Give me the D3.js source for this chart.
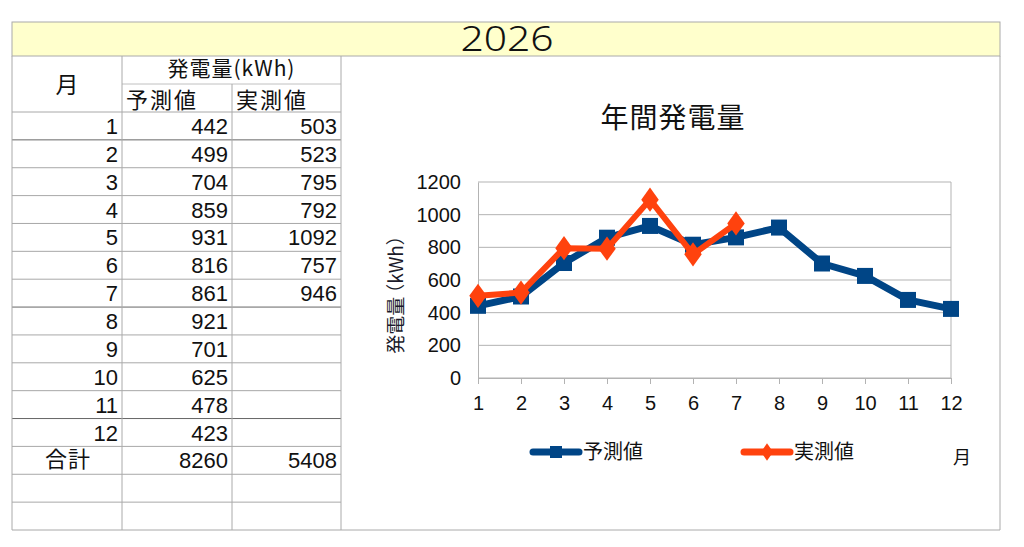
<!DOCTYPE html>
<html><head><meta charset="utf-8">
<script src="https://cdn.jsdelivr.net/npm/d3@7"></script>
<style>
html,body{margin:0;padding:0;background:#fff;}
svg{display:block;}
</style></head>
<body>
<svg id="c" width="1024" height="547"></svg>
<script>
const yearTitle = "2026";
const chartTitle = "年間発電量";
const months = [1,2,3,4,5,6,7,8,9,10,11,12];
const predicted = [442,499,704,859,931,816,861,921,701,625,478,423];
const actual = [503,523,795,792,1092,757,946,null,null,null,null,null];
const seriesNames = ["予測値","実測値"];
const yTicks = [0,200,400,600,800,1000,1200];
const headerMonth = "月";
const headerGroup = "発電量(kWh)";
const totalLabel = "合計";
const yAxisLabelParts = ["発電量", "（kWh）"];
const xAxisLabel = "月";

const svg = d3.select("#c");
const CJK = "'Noto Sans CJK JP','Noto Sans',sans-serif";
const NUM = "'Liberation Sans',Arial,sans-serif";
const blue = "#004586", orange = "#ff420e";

// ---- spreadsheet frame ----
const L = 12, R = 1000, T = 22, B = 530;
const c1 = 122, c2 = 232, c3 = 341;
svg.append("rect").attr("x", L).attr("y", T).attr("width", R - L).attr("height", 34)
  .attr("fill", "#ffffcc").attr("stroke", "#aaa");
svg.append("text").attr("transform", `translate(${(L + R) / 2 + 1},51) scale(1.2,1)`).attr("text-anchor", "middle")
  .attr("font-family", "'Noto Sans','Open Sans',sans-serif").attr("font-weight", 300)
  .attr("font-size", 34).attr("fill", "#111")
  .text(yearTitle);

const rowTop = 112;
const nRows = months.length + 3;
const rowH = (B - rowTop) / nRows;
const rowY = i => rowTop + i * rowH;

const g = svg.append("g");
// horizontal lines
for (let i = 0; i <= nRows; i++) {
  g.append("line").attr("x1", L).attr("x2", c3).attr("y1", rowY(i)).attr("y2", rowY(i))
    .attr("stroke", (i === 1 || i === 7 || i === 11) ? "#666" : "#a8a8a8").attr("stroke-width", 1);
}
g.append("line").attr("x1", c1).attr("x2", c3).attr("y1", 84).attr("y2", 84).attr("stroke", "#c0c0c0");
// vertical lines
[[L, 56, B], [c1, 56, B], [c2, 84, B], [c3, 56, B], [R, 56, B]].forEach(([x, y1, y2]) => {
  g.append("line").attr("x1", x).attr("x2", x).attr("y1", y1).attr("y2", y2).attr("stroke", "#aaa");
});
g.append("line").attr("x1", c3).attr("x2", R).attr("y1", B).attr("y2", B).attr("stroke", "#aaa");

// header texts
const txt = (x, y, s, anchor, fam, size) => g.append("text").attr("x", x).attr("y", y)
  .attr("text-anchor", anchor).attr("font-family", fam).attr("font-size", size).attr("fill", "#111").text(s);
txt((L + c1) / 2, 93, headerMonth, "middle", CJK, 23);
txt((c1 + c3) / 2, 76, headerGroup, "middle", CJK, 21).attr("letter-spacing", 1);
txt(126, 108, seriesNames[0], "start", CJK, 22).attr("letter-spacing", 2);
txt(236, 108, seriesNames[1], "start", CJK, 22).attr("letter-spacing", 2);

months.forEach((m, i) => {
  const yb = rowY(i) + 22;
  txt(c1 - 4, yb, m, "end", NUM, 22);
  txt(c2 - 4, yb, predicted[i], "end", NUM, 22);
  if (actual[i] != null) txt(c3 - 4, yb, actual[i], "end", NUM, 22);
});
const ti = months.length;
txt((L + c1) / 2 + 1, rowY(ti) + 21, totalLabel, "middle", CJK, 22).attr("letter-spacing", 1);
txt(c2 - 4, rowY(ti) + 22, d3.sum(predicted), "end", NUM, 22);
txt(c3 - 4, rowY(ti) + 22, d3.sum(actual.filter(v => v != null)), "end", NUM, 22);

// ---- chart ----
const x = d3.scalePoint().domain(months).range([478, 951]);
const y = d3.scaleLinear().domain([0, 1200]).range([378, 182]);
const ch = svg.append("g");

ch.append("text").attr("x", 673).attr("y", 128).attr("text-anchor", "middle")
  .attr("font-family", CJK).attr("font-size", 28).attr("letter-spacing", 1).attr("fill", "#111").text(chartTitle);

// gridlines
ch.selectAll(".grid").data(yTicks).join("line")
  .attr("x1", 478).attr("x2", 951).attr("y1", d => y(d)).attr("y2", d => y(d))
  .attr("stroke", "#b3b3b3").attr("stroke-width", 1);
ch.append("line").attr("x1", 951).attr("x2", 951).attr("y1", y(1200)).attr("y2", y(0)).attr("stroke", "#b3b3b3");

// y axis
const yAx = ch.append("g").attr("transform", "translate(478,0)")
  .call(d3.axisLeft(y).tickValues(yTicks).tickFormat(d3.format("d")).tickSize(0).tickPadding(17));
yAx.select(".domain").attr("stroke", "#b3b3b3");
yAx.selectAll("text").attr("font-family", NUM).attr("font-size", 20).attr("fill", "#111");

// x axis
const xAx = ch.append("g").attr("transform", "translate(0,378)")
  .call(d3.axisBottom(x).tickSize(6).tickPadding(12));
xAx.select(".domain").attr("stroke", "#b3b3b3");
xAx.selectAll(".tick line").attr("stroke", "#b3b3b3");
xAx.selectAll("text").attr("font-family", NUM).attr("font-size", 20).attr("fill", "#111");

// y-axis label
const yl = ch.append("text").attr("transform", "translate(403,290) rotate(-90)").attr("text-anchor", "middle")
  .attr("font-family", CJK).attr("font-size", 19).attr("fill", "#1a1a2a");
yl.append("tspan").text(yAxisLabelParts[0]);
yl.append("tspan").attr("dx", -6).text(yAxisLabelParts[1]);

// lines
const line = d3.line().defined(d => d.v != null).x(d => x(d.m)).y(d => y(d.v));
const pData = months.map((m, i) => ({ m, v: predicted[i] }));
const aData = months.map((m, i) => ({ m, v: actual[i] }));
ch.append("path").datum(pData).attr("d", line).attr("fill", "none")
  .attr("stroke", blue).attr("stroke-width", 7).attr("stroke-linejoin", "round");
ch.selectAll(".sq").data(pData).join("rect")
  .attr("x", d => x(d.m) - 8).attr("y", d => y(d.v) - 8).attr("width", 16).attr("height", 16)
  .attr("fill", blue);
ch.append("path").datum(aData).attr("d", line).attr("fill", "none")
  .attr("stroke", orange).attr("stroke-width", 6).attr("stroke-linejoin", "round");
const dia = d3.symbol().type(d3.symbolDiamond).size(170);
ch.selectAll(".dm").data(aData.filter(d => d.v != null)).join("path")
  .attr("d", dia).attr("transform", d => `translate(${x(d.m)},${y(d.v)}) scale(1.25,1)`)
  .attr("fill", orange);

// legend
const lg = ch.append("g");
const legendItems = [{ name: seriesNames[0], color: blue, x: 530, marker: "sq" },
                     { name: seriesNames[1], color: orange, x: 741, marker: "dm" }];
legendItems.forEach(it => {
  lg.append("line").attr("x1", it.x + 3).attr("x2", it.x + 49).attr("y1", 452).attr("y2", 452)
    .attr("stroke", it.color).attr("stroke-width", 7).attr("stroke-linecap", "round");
  if (it.marker === "sq") {
    lg.append("rect").attr("x", it.x + 20).attr("y", 446).attr("width", 12).attr("height", 12).attr("fill", it.color);
  } else {
    lg.append("path").attr("d", d3.symbol().type(d3.symbolDiamond).size(90)())
      .attr("transform", `translate(${it.x + 26},452) scale(1.2,1)`).attr("fill", it.color);
  }
  lg.append("text").attr("x", it.x + 53).attr("y", 459).attr("font-family", CJK).attr("font-size", 20)
    .attr("fill", "#111").text(it.name);
});
ch.append("text").attr("x", 962).attr("y", 464).attr("text-anchor", "middle")
  .attr("font-family", CJK).attr("font-size", 18).attr("fill", "#111").text(xAxisLabel);
</script>
</body></html>
